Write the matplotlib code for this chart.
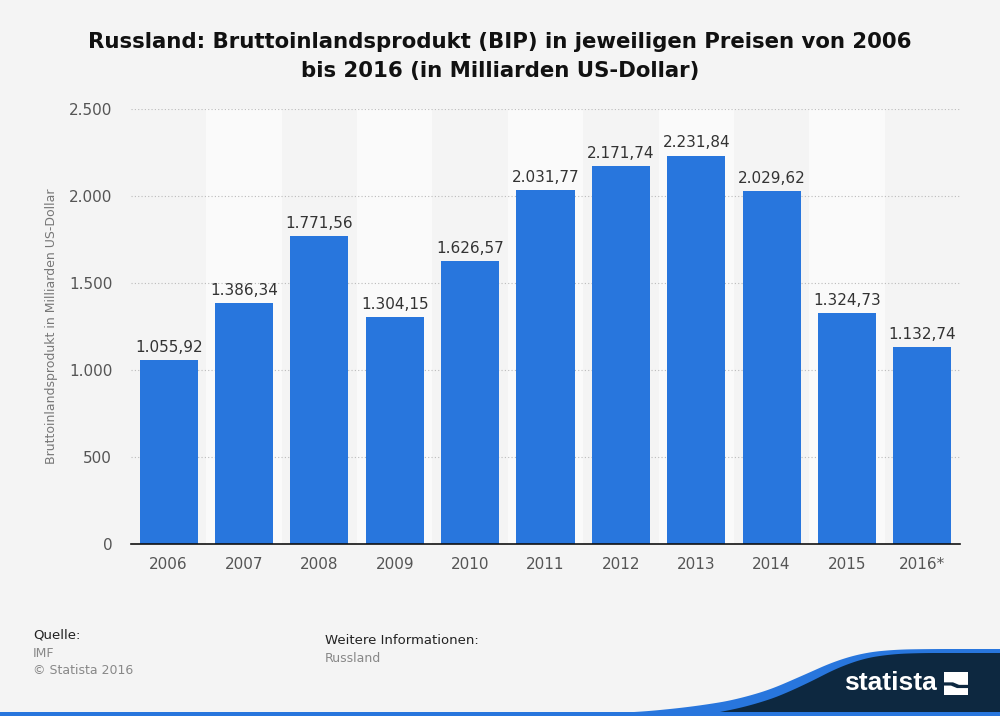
import numpy as np
import matplotlib.pyplot as plt
from matplotlib.patches import Polygon, Rectangle
from matplotlib.ticker import FuncFormatter

years = ["2006", "2007", "2008", "2009", "2010", "2011", "2012", "2013", "2014", "2015", "2016*"]
gdp = [1055.92, 1386.34, 1771.56, 1304.15, 1626.57, 2031.77, 2171.74, 2231.84, 2029.62, 1324.73, 1132.74]
y_ticks = [0, 500, 1000, 1500, 2000, 2500]


def de_num(v, dec=2):
    s = f"{v:,.{dec}f}"
    return s.replace(",", "X").replace(".", ",").replace("X", ".")


bg = "#f4f4f4"
bar_color = "#2876dd"
navy = "#0d2840"
W, H = 1000, 716

fig = plt.figure(figsize=(10, 7.16), dpi=100, facecolor=bg)
ax = fig.add_axes([0.131, 0.2402, 0.829, 0.6076])
ax.set_facecolor(bg)

x = np.arange(len(years))
for i in x:
    if i % 2 == 1:
        ax.axvspan(i - 0.5, i + 0.5, color="#fafafa", zorder=0, lw=0)

bars = ax.bar(x, gdp, width=0.77, color=bar_color, zorder=3)
for xi, v in zip(x, gdp):
    ax.text(xi, v + 30, de_num(v), ha="center", va="bottom", fontsize=11, color="#333333", zorder=4)

ax.set_xlim(-0.5, len(years) - 0.5)
ax.set_ylim(0, 2500)
ax.set_yticks(y_ticks)
ax.yaxis.set_major_formatter(FuncFormatter(lambda v, p: de_num(v, 0)))
ax.set_xticks(x)
ax.set_xticklabels(years)
ax.tick_params(axis="both", length=0, labelsize=11, labelcolor="#555555")
ax.tick_params(axis="x", pad=9)
ax.tick_params(axis="y", pad=13.5)
ax.grid(axis="y", color="#bbbbbb", linestyle=(0, (1, 2)), lw=0.8, zorder=1)
for s in ["top", "right", "left"]:
    ax.spines[s].set_visible(False)
ax.spines["bottom"].set_color("#111111")
ax.spines["bottom"].set_linewidth(1.2)
ax.spines["bottom"].set_zorder(5)
ax.set_ylabel("Bruttoinlandsprodukt in Milliarden US-Dollar", fontsize=9, color="#777777", labelpad=8)

fig.text(0.5, 0.956, "Russland: Bruttoinlandsprodukt (BIP) in jeweiligen Preisen von 2006\nbis 2016 (in Milliarden US-Dollar)",
         ha="center", va="top", fontsize=15.3, fontweight="bold", color="#111111", linespacing=1.6)

fig.text(0.033, 0.108, "Quelle:", fontsize=9.5, color="#222222")
fig.text(0.033, 0.083, "IMF", fontsize=9, color="#888888")
fig.text(0.033, 0.058, "© Statista 2016", fontsize=9, color="#888888")
fig.text(0.325, 0.101, "Weitere Informationen:", fontsize=9.5, color="#222222")
fig.text(0.325, 0.076, "Russland", fontsize=9, color="#888888")


# statista swoosh (pixel guide points, smoothed)
def swoosh(px, py):
    xs = np.linspace(px[0], px[-1], 300)
    ys = np.interp(xs, px, py)
    k = 25
    ys = np.convolve(np.pad(ys, k, mode="edge"), np.ones(2 * k + 1) / (2 * k + 1), mode="valid")
    pts = [(a / W, 1 - b / H) for a, b in zip(xs, ys)]
    return pts + [(1.0, 0.0), (px[0] / W, 0.0)]


blue_pts = swoosh([630, 700, 750, 790, 820, 850, 880, 920, 1000], [713, 706, 697, 682, 667, 655, 650, 649, 649])
navy_pts = swoosh([690, 755, 795, 823, 852, 880, 910, 950, 1000], [718, 705, 690, 675, 661, 655, 653, 653, 653])
fig.patches.append(Polygon(blue_pts, closed=True, transform=fig.transFigure, color=bar_color, lw=0, zorder=1))
fig.patches.append(Polygon(navy_pts, closed=True, transform=fig.transFigure, color=navy, lw=0, zorder=2))
fig.patches.append(Rectangle((0, 0), 1, 0.005, transform=fig.transFigure, color=bar_color, lw=0, zorder=3))
fig.text(0.8905, 0.046, "statista", fontsize=19, fontweight="bold", family="Liberation Sans", color="white",
         ha="center", va="center", zorder=4)
fig.patches.append(Rectangle((0.944, 0.0293), 0.024, 0.0322, transform=fig.transFigure, color="white", lw=0, zorder=4))
fig.patches.append(Polygon([(0.944, 0.047), (0.953, 0.047), (0.959, 0.0435), (0.968, 0.0435),
                            (0.968, 0.039), (0.957, 0.039), (0.951, 0.0425), (0.944, 0.0425)],
                           closed=True, transform=fig.transFigure, color=navy, lw=0, zorder=5))

fig.savefig("out.png", dpi=100, facecolor=bg)
